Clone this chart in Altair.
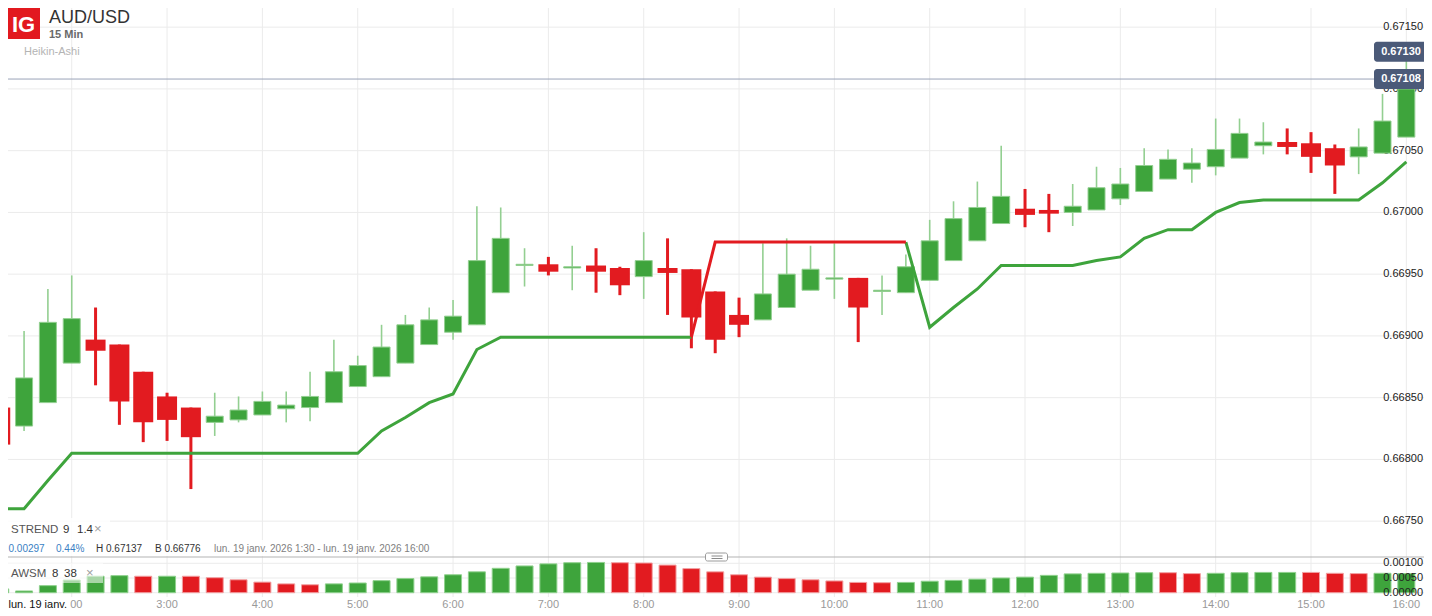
import altair as alt
import pandas as pd

# ---------------- data ----------------
TIMES = ["1:15", "1:30", "1:45", "2:00", "2:15", "2:30", "2:45", "3:00", "3:15", "3:30",
         "3:45", "4:00", "4:15", "4:30", "4:45", "5:00", "5:15", "5:30", "5:45", "6:00",
         "6:15", "6:30", "6:45", "7:00", "7:15", "7:30", "7:45", "8:00", "8:15", "8:30",
         "8:45", "9:00", "9:15", "9:30", "9:45", "10:00", "10:15", "10:30", "10:45", "11:00",
         "11:15", "11:30", "11:45", "12:00", "12:15", "12:30", "12:45", "13:00", "13:15", "13:30",
         "13:45", "14:00", "14:15", "14:30", "14:45", "15:00", "15:15", "15:30", "15:45", "16:00"]

OPEN = [0.66842, 0.66827, 0.66846, 0.66878, 0.66897, 0.66893, 0.66871, 0.66851, 0.66842, 0.66830,
        0.66832, 0.66836, 0.66841, 0.66842, 0.66846, 0.66859, 0.66867, 0.66878, 0.66893, 0.66903,
        0.66909, 0.66935, 0.66957, 0.66958, 0.66955, 0.66957, 0.66955, 0.66948, 0.66955, 0.66954,
        0.66936, 0.66917, 0.66913, 0.66923, 0.66937, 0.66946, 0.66947, 0.66936, 0.66935, 0.66945,
        0.66961, 0.66977, 0.66991, 0.67003, 0.67002, 0.67000, 0.67002, 0.67011, 0.67017, 0.67027,
        0.67035, 0.67037, 0.67044, 0.67054, 0.67057, 0.67056, 0.67052, 0.67045, 0.67048, 0.67061]
CLOSE = [0.66812, 0.66866, 0.66911, 0.66914, 0.66888, 0.66847, 0.66830, 0.66832, 0.66818, 0.66835,
         0.66840, 0.66847, 0.66844, 0.66851, 0.66871, 0.66876, 0.66891, 0.66909, 0.66913, 0.66916,
         0.66961, 0.66979, 0.66958, 0.66952, 0.66956, 0.66952, 0.66941, 0.66961, 0.66951, 0.66915,
         0.66897, 0.66909, 0.66934, 0.66950, 0.66954, 0.66947, 0.66923, 0.66937, 0.66956, 0.66977,
         0.66995, 0.67004, 0.67013, 0.66998, 0.66999, 0.67005, 0.67020, 0.67023, 0.67038, 0.67043,
         0.67040, 0.67051, 0.67064, 0.67057, 0.67053, 0.67045, 0.67038, 0.67053, 0.67074, 0.67100]
HIGH = [0.66842, 0.66904, 0.66938, 0.66949, 0.66923, 0.66893, 0.66871, 0.66854, 0.66842, 0.66854,
        0.66851, 0.66855, 0.66855, 0.66871, 0.66897, 0.66884, 0.66909, 0.66917, 0.66923, 0.66929,
        0.67005, 0.67004, 0.66971, 0.66964, 0.66973, 0.66971, 0.66956, 0.66984, 0.66979, 0.66954,
        0.66936, 0.66931, 0.66975, 0.66979, 0.66973, 0.66975, 0.66947, 0.66949, 0.66966, 0.66994,
        0.67009, 0.67025, 0.67054, 0.67019, 0.67015, 0.67023, 0.67037, 0.67036, 0.67052, 0.67051,
        0.67052, 0.67076, 0.67076, 0.67073, 0.67068, 0.67065, 0.67055, 0.67068, 0.67096, 0.67137]
LOW = [0.66812, 0.66823, 0.66846, 0.66878, 0.66860, 0.66828, 0.66814, 0.66815, 0.66776, 0.66819,
       0.66830, 0.66836, 0.66830, 0.66831, 0.66846, 0.66859, 0.66867, 0.66878, 0.66893, 0.66897,
       0.66909, 0.66935, 0.66940, 0.66949, 0.66937, 0.66935, 0.66933, 0.66930, 0.66917, 0.66890,
       0.66886, 0.66899, 0.66913, 0.66923, 0.66937, 0.66930, 0.66895, 0.66917, 0.66935, 0.66945,
       0.66961, 0.66977, 0.66991, 0.66988, 0.66984, 0.66989, 0.67002, 0.67006, 0.67017, 0.67027,
       0.67024, 0.67030, 0.67044, 0.67047, 0.67047, 0.67032, 0.67015, 0.67031, 0.67048, 0.67061]

# Supertrend (9, 1.4)
STREND = [0.66760, 0.66760, 0.66783, 0.66805, 0.66805, 0.66805, 0.66805, 0.66805, 0.66805, 0.66805,
          0.66805, 0.66805, 0.66805, 0.66805, 0.66805, 0.66805, 0.66823, 0.66834, 0.66846, 0.66853,
          0.66889, 0.66899, 0.66899, 0.66899, 0.66899, 0.66899, 0.66899, 0.66899, 0.66899, 0.66899,
          0.66976, 0.66976, 0.66976, 0.66976, 0.66976, 0.66976, 0.66976, 0.66976, 0.66976, 0.66907,
          0.66923, 0.66938, 0.66957, 0.66957, 0.66957, 0.66957, 0.66961, 0.66964, 0.66979, 0.66986,
          0.66986, 0.67000, 0.67008, 0.67010, 0.67010, 0.67010, 0.67010, 0.67010, 0.67024, 0.67041]
STREND_DIR = list("UUUUUUUUUUUUUUUUUUUUUUUUUUUUUU" "DDDDDDDDD" "UUUUUUUUUUUUUUUUUUUUU")

# AWSM (8, 38)
AWSM = [0.00013, 0.00006, 0.00024, 0.00043, 0.00056, 0.00058, 0.00056, 0.00056, 0.00056, 0.00051,
        0.00044, 0.00036, 0.00030, 0.00027, 0.00030, 0.00033, 0.00041, 0.00048, 0.00054, 0.00061,
        0.00071, 0.00083, 0.00091, 0.00098, 0.00102, 0.00103, 0.00102, 0.00101, 0.00094, 0.00082,
        0.00071, 0.00061, 0.00053, 0.00048, 0.00044, 0.00040, 0.00035, 0.00034, 0.00035, 0.00039,
        0.00042, 0.00046, 0.00050, 0.00053, 0.00059, 0.00064, 0.00066, 0.00067, 0.00068, 0.00068,
        0.00065, 0.00066, 0.00068, 0.00069, 0.00069, 0.00069, 0.00066, 0.00065, 0.00066, 0.00065]
AWSM_DIR = list("UUUUUU" "D" "U" "DDDDDD" "UUUUUUUUUUUU" "DDDDDDDDDDDD" "UUUUUUUUUUU"
                "DD" "UUUU" "DDD" "UU")

HOUR_TICKS = [2, 3, 4, 5, 6, 7, 8, 9, 10, 11, 12, 13, 14, 15, 16]
PRICE_TICKS = [0.6675, 0.6680, 0.6685, 0.6690, 0.6695, 0.6700, 0.6705, 0.6710, 0.6715]
AWSM_TICKS = [0.0, 0.0005, 0.0010]
PRICE_TAGS = [0.67130, 0.67108]
LAST_PRICE = [0.67108]

# ---------------- styling ----------------
FONT = "Liberation Sans"
GREEN = "#3ea43c"
GREEN_LIGHT = "#93cf91"
RED = "#e21b20"
RED_LIGHT = "#f2a0a2"
GRID = "#ebebeb"
TAG = "#4b5a78"

X_DOMAIN = [1.3, 16.21667]
P_DOMAIN = [0.666886, 0.671720]
A_DOMAIN = [-0.000146, 0.02016]


def hours(s):
    h, m = s.split(":")
    return int(h) + int(m) / 60.0


t = [hours(s) for s in TIMES]
candles = pd.DataFrame({"t": t, "open": OPEN, "high": HIGH, "low": LOW, "close": CLOSE})
candles["dir"] = ["up" if c >= o else "down" for o, c in zip(OPEN, CLOSE)]
candles["body_lo"] = candles[["open", "close"]].min(axis=1)
candles["body_hi"] = candles[["open", "close"]].max(axis=1)

rows = []
seg = 0
for i in range(len(t)):
    d = "up" if STREND_DIR[i] == "U" else "down"
    if i > 0 and STREND_DIR[i] != STREND_DIR[i - 1]:
        seg += 1
        rows.append({"t": t[i - 1], "v": STREND[i - 1], "seg": seg, "dir": d})
    rows.append({"t": t[i], "v": STREND[i], "seg": seg, "dir": d})
st_df = pd.DataFrame(rows)

awsm_df = pd.DataFrame({"t": t, "v": AWSM,
                        "dir": ["up" if d == "U" else "down" for d in AWSM_DIR]})
tags = pd.DataFrame({"p": PRICE_TAGS})
tags["lo"] = tags["p"] - 0.000081
tags["hi"] = tags["p"] + 0.000081
tags["label"] = [f"{v:.5f}" for v in PRICE_TAGS]
last_df = pd.DataFrame({"p": LAST_PRICE})
hour_df = pd.DataFrame({"h": HOUR_TICKS, "label": [f"{h}:00" for h in HOUR_TICKS]})
pt_df = pd.DataFrame({"p": PRICE_TICKS, "label": [f"{v:.5f}" for v in PRICE_TICKS]})
at_df = pd.DataFrame({"v": AWSM_TICKS, "label": [f"{v:.5f}" for v in AWSM_TICKS]})
ONE = pd.DataFrame({"k": [0]})

xs = alt.Scale(domain=X_DOMAIN, nice=False, zero=False)
ps = alt.Scale(domain=P_DOMAIN, nice=False, zero=False)
ascale = alt.Scale(domain=A_DOMAIN, nice=False, zero=False)

X = alt.X("t:Q", scale=xs, axis=None)
is_up = alt.datum.dir == "up"
is_dn = alt.datum.dir == "down"

# grid lines and tick labels drawn through the scales
vgrid = alt.Chart(hour_df).mark_rule(color=GRID, strokeWidth=1).encode(
    x=alt.X("h:Q", scale=xs, axis=None))
hgrid = alt.Chart(pt_df).mark_rule(color=GRID, strokeWidth=1).encode(
    y=alt.Y("p:Q", scale=ps, axis=None))
plabels = alt.Chart(pt_df).mark_text(align="right", baseline="middle", fontSize=11, font=FONT,
                                     color="#222222").encode(
    x=alt.value(1423), y=alt.Y("p:Q", scale=ps, axis=None), text="label:N")

base = alt.Chart(candles)
wick_up = base.transform_filter(is_up).mark_rule(color=GREEN_LIGHT, strokeWidth=1.6).encode(
    x=X, y=alt.Y("low:Q", scale=ps, axis=None), y2="high:Q")
wick_dn = base.transform_filter(is_dn).mark_rule(color=RED, strokeWidth=3).encode(
    x=X, y=alt.Y("low:Q", scale=ps, axis=None), y2="high:Q")
body_up = base.transform_filter(is_up).mark_bar(fill=GREEN, stroke=GREEN_LIGHT, strokeWidth=1,
                                                size=17).encode(
    x=X, y=alt.Y("body_lo:Q", scale=ps, axis=None), y2="body_hi:Q")
body_dn = base.transform_filter(is_dn).mark_bar(fill=RED, size=20).encode(
    x=X, y=alt.Y("body_lo:Q", scale=ps, axis=None), y2="body_hi:Q")

st_up = alt.Chart(st_df).transform_filter(is_up).mark_line(color=GREEN, strokeWidth=3).encode(
    x=X, y=alt.Y("v:Q", scale=ps, axis=None), detail="seg:N")
st_dn = alt.Chart(st_df).transform_filter(is_dn).mark_line(color=RED, strokeWidth=3).encode(
    x=X, y=alt.Y("v:Q", scale=ps, axis=None), detail="seg:N")

price_rule = alt.Chart(last_df).mark_rule(color="#9aa4b8", strokeWidth=1).encode(
    y=alt.Y("p:Q", scale=ps, axis=None))
tag_rect = alt.Chart(tags).mark_rect(fill=TAG, cornerRadius=3).encode(
    x=alt.value(1374), x2=alt.value(1428),
    y=alt.Y("lo:Q", scale=ps, axis=None), y2="hi:Q")
tag_text = alt.Chart(tags).mark_text(color="white", fontWeight="bold", fontSize=11, font=FONT,
                                     align="center", baseline="middle").encode(
    x=alt.value(1401), y=alt.Y("p:Q", scale=ps, axis=None), text="label:N")

price = alt.layer(vgrid, hgrid, plabels, wick_up, wick_dn, body_up, body_dn, st_up, st_dn,
                  price_rule, tag_rect, tag_text)

agrid = alt.Chart(at_df).mark_rule(color=GRID, strokeWidth=1).encode(
    y=alt.Y("v:Q", scale=ascale, axis=None))
hist_up = alt.Chart(awsm_df).transform_filter(is_up).mark_bar(
    fill=GREEN, stroke="#8fd18d", strokeWidth=1, size=17).encode(
    x=X, y=alt.Y("v:Q", scale=ascale, axis=None), y2=alt.datum(0))
hist_dn = alt.Chart(awsm_df).transform_filter(is_dn).mark_bar(
    fill=RED, stroke=RED_LIGHT, strokeWidth=1, size=17).encode(
    x=X, y=alt.Y("v:Q", scale=ascale, axis=None), y2=alt.datum(0))
alabels = alt.Chart(at_df).mark_text(align="right", baseline="middle", fontSize=11, font=FONT,
                                     color="#222222").encode(
    x=alt.value(1423), y=alt.Y("v:Q", scale=ascale, axis=None), text="label:N")
awsm = alt.layer(agrid, hist_up, hist_dn, alabels)

tlabels = alt.Chart(hour_df).mark_text(align="center", baseline="alphabetic", fontSize=11,
                                       font=FONT, color="#999999").encode(
    x=alt.X("h:Q", scale=xs, axis=None), y=alt.value(607.5), text="label:N")


def box(x0, x1, y0, y1, fill="white", opacity=1.0, stroke=None, radius=0):
    kw = dict(fill=fill, opacity=opacity, cornerRadius=radius)
    if stroke:
        kw.update(stroke=stroke, strokeWidth=1)
    return alt.Chart(ONE).mark_rect(**kw).encode(
        x=alt.value(x0), x2=alt.value(x1), y=alt.value(y0), y2=alt.value(y1))


def hline(x0, x1, y, color, width=1):
    return alt.Chart(ONE).mark_rule(color=color, strokeWidth=width).encode(
        x=alt.value(x0), x2=alt.value(x1), y=alt.value(y))


def txt(s, x, y, size=11, color="#333333", weight="normal", align="left"):
    return alt.Chart(ONE).mark_text(fontSize=size, color=color, fontWeight=weight, align=align,
                                    baseline="alphabetic", font=FONT).encode(
        x=alt.value(x), y=alt.value(y), text=alt.value(s))


decor = [
    tlabels,
    box(7, 40, 7, 39, fill="#e2191f"),
    txt("IG", 23.5, 31.5, size=22, color="white", weight="bold", align="center"),
    txt("AUD/USD", 49, 23.3, size=18, color="#333333"),
    txt("15 Min", 49, 37.7, size=11, color="#6a6a6a", weight="bold"),
    txt("Heikin-Ashi", 24, 55, size=11, color="#b4b4b4"),
    box(0, 110, 518, 540, opacity=0.85),
    box(0, 433, 540, 556, opacity=0.85),
    txt("STREND", 11, 533, size=11.5, color="#555555"),
    txt("9", 63, 533, size=11.5, color="#333333"),
    txt("1.4", 77, 533, size=11.5, color="#333333"),
    txt("\u00d7", 94, 533, size=13, color="#a0a0a0"),
    txt("0.00297", 8.5, 551.7, size=10, color="#3a7fc4"),
    txt("0.44%", 56, 551.7, size=10, color="#3a7fc4"),
    txt("H 0.67137", 96, 551.7, size=10, color="#333333"),
    txt("B 0.66776", 155, 551.7, size=10, color="#333333"),
    txt("lun. 19 janv. 2026 1:30 - lun. 19 janv. 2026 16:00", 214, 551.7, size=10,
        color="#808080"),
    hline(0, 1432, 557, "#b3b3b3"),
    box(705.5, 727.5, 553, 561, fill="white", stroke="#9a9a9a", radius=2),
    hline(711.5, 722.5, 556, "#8a8a8a"),
    hline(711.5, 722.5, 558.5, "#8a8a8a"),
    box(0, 103, 563, 583, opacity=0.55),
    txt("AWSM", 11, 577, size=11.5, color="#555555"),
    txt("8", 52, 577, size=11.5, color="#333333"),
    txt("38", 64, 577, size=11.5, color="#333333"),
    txt("\u00d7", 86, 577, size=13, color="#a0a0a0"),
    box(0, 70, 598, 616),
    txt("lun. 19 janv.", 8.5, 607.5, size=11, color="#111111"),
]

chart = alt.layer(price, awsm, *decor).resolve_scale(y="independent").properties(
    width=1432, height=597,
    padding={"left": -8, "top": -8, "right": -8, "bottom": 11},
    autosize=alt.AutoSizeParams(type="none"),
).configure_view(strokeWidth=0)

chart.save("out.html", embed_options={"renderer": "svg", "actions": False})
